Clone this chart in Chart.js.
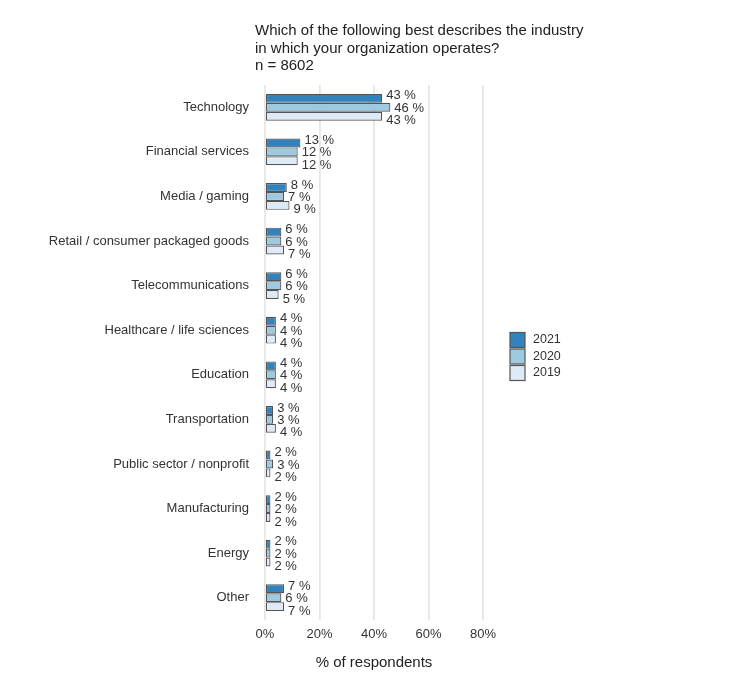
<!DOCTYPE html>
<html>
<head>
<meta charset="utf-8">
<script src="https://cdn.jsdelivr.net/npm/chart.js@4"></script>
<style>
  body { margin: 0; background: #fff; }
  #wrap { width: 732px; height: 684px; position: relative; }
</style>
</head>
<body>
<div id="wrap"><canvas id="industryChart" width="732" height="684"></canvas></div>
<script>
// Industry of respondents' organisations, by survey year
const industries = ['Technology', 'Financial services', 'Media / gaming', 'Retail / consumer packaged goods',
  'Telecommunications', 'Healthcare / life sciences', 'Education', 'Transportation',
  'Public sector / nonprofit', 'Manufacturing', 'Energy', 'Other'];
const share2021 = [43, 13, 8, 6, 6, 4, 4, 3, 2, 2, 2, 7];
const share2020 = [46, 12, 7, 6, 6, 4, 4, 3, 3, 2, 2, 6];
const share2019 = [43, 12, 9, 7, 5, 4, 4, 4, 2, 2, 2, 7];
const xTicks = [0, 20, 40, 60, 80];
const titleLines = ['Which of the following best describes the industry',
  'in which your organization operates?', 'n = 8602'];

const FONT = 'Arial, "Liberation Sans", Helvetica, sans-serif';
const TEXT = '#333333';

// title drawn above the plot, left aligned a bit left of the axis
const titlePlugin = {
  id: 'titleText',
  afterDraw(chart) {
    const ctx = chart.ctx;
    ctx.save();
    ctx.font = '15px ' + FONT;
    ctx.fillStyle = '#222';
    ctx.textAlign = 'left';
    ctx.textBaseline = 'middle';
    titleLines.forEach((line, i) => {
      ctx.fillText(line, chart.chartArea.left - 10, 31 + i * 17.5);
    });
    ctx.restore();
  }
};

// "43 %" labels at the end of each bar
const valueLabels = {
  id: 'valueLabels',
  afterDatasetsDraw(chart) {
    const ctx = chart.ctx;
    ctx.save();
    ctx.font = '13px ' + FONT;
    ctx.fillStyle = TEXT;
    ctx.textAlign = 'left';
    ctx.textBaseline = 'middle';
    chart.data.datasets.forEach((ds, di) => {
      const meta = chart.getDatasetMeta(di);
      meta.data.forEach((bar, i) => {
        ctx.fillText(ds.data[i] + ' %', bar.x + 4, bar.y + 1 + (di - 1) * 3.5);
      });
    });
    ctx.restore();
  }
};

// small stacked legend to the right of the plot
const sideLegend = {
  id: 'sideLegend',
  afterDraw(chart) {
    const ctx = chart.ctx;
    const area = chart.chartArea;
    const x = area.right + 27;
    const y0 = (area.top + area.bottom) / 2 + 4 - 16.5;
    ctx.save();
    ctx.font = '12.5px ' + FONT;
    ctx.textBaseline = 'middle';
    chart.data.datasets.forEach((ds, i) => {
      const y = y0 + i * 16.5;
      ctx.fillStyle = ds.backgroundColor;
      ctx.fillRect(x, y - 7.5, 15, 15);
      ctx.strokeStyle = '#555';
      ctx.lineWidth = 1.2;
      ctx.strokeRect(x, y - 7.5, 15, 15);
      ctx.fillStyle = TEXT;
      ctx.fillText(ds.label, x + 23, y);
    });
    ctx.restore();
  }
};

const ctx1 = document.getElementById('industryChart').getContext('2d');
const industryChart = new Chart(ctx1, {
  type: 'bar',
  data: {
    labels: industries,
    datasets: [
      { label: '2021', data: share2021, backgroundColor: '#3182bd' },
      { label: '2020', data: share2020, backgroundColor: '#9ecae1' },
      { label: '2019', data: share2019, backgroundColor: '#deebf7' }
    ]
  },
  options: {
    indexAxis: 'y',
    responsive: false,
    animation: false,
    layout: {
      padding: { top: 85, left: 10, right: 249, bottom: 8 }
    },
    datasets: {
      bar: {
        borderColor: '#555',
        borderWidth: 1.2,
        borderSkipped: false,
        categoryPercentage: 0.6,
        barPercentage: 1.0
      }
    },
    plugins: {
      legend: { display: false },
      title: { display: false },
      tooltip: { enabled: false }
    },
    scales: {
      x: {
        min: 0,
        max: 80,
        afterBuildTicks(scale) {
          scale.ticks = xTicks.map(v => ({ value: v }));
        },
        afterFit(scale) {
          scale.height = 56;
        },
        grid: {
          color: '#e6e6e6',
          lineWidth: 1.8,
          drawTicks: false
        },
        border: { display: false },
        ticks: {
          padding: 7,
          color: TEXT,
          font: { family: FONT, size: 13 },
          callback: v => v + '%'
        },
        title: {
          display: true,
          text: '% of respondents',
          color: '#222',
          font: { family: FONT, size: 15 },
          padding: { top: 8 }
        }
      },
      y: {
        afterFit(scale) {
          scale.width = 255;
        },
        grid: { display: false, drawTicks: false },
        border: { display: false },
        ticks: {
          padding: 16,
          color: TEXT,
          font: { family: FONT, size: 13 }
        }
      }
    }
  },
  plugins: [titlePlugin, valueLabels, sideLegend]
});
</script>
</body>
</html>
